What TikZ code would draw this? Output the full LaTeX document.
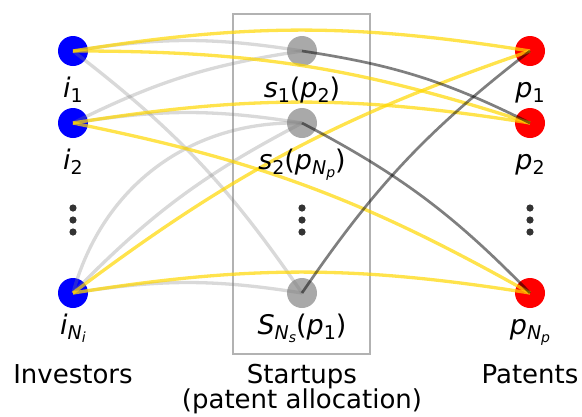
\documentclass[tikz,border=0pt]{standalone}
\usepackage{fontspec}
\setmainfont{DejaVu Sans}
\usepackage{tikz}

\definecolor{invblue}{RGB}{0,0,255}
\definecolor{patred}{RGB}{255,0,0}
\definecolor{stgray}{RGB}{169,169,169}
\definecolor{linkyellow}{RGB}{255,215,0}
\definecolor{dotgray}{RGB}{51,51,51}

\newcommand{\sub}[1]{\raisebox{-5pt}{\fontsize{19}{19}\selectfont #1}}
\newcommand{\subsub}[1]{\raisebox{-3.5pt}{\fontsize{14}{14}\selectfont\itshape #1}}

\begin{document}
\begin{tikzpicture}[x=1pt, y=1pt,
    agent/.style={circle, minimum size=30pt, inner sep=0pt},
    investor/.style={agent, fill=invblue},
    startup/.style={agent, fill=stgray},
    patent/.style={agent, fill=patred},
    lbl/.style={anchor=base, inner sep=0pt, font=\fontsize{26}{30}\selectfont},
    mlbl/.style={lbl, font=\fontsize{27}{30}\selectfont},
    invest/.style={line width=3.3pt, gray, opacity=0.3},
    license/.style={line width=3.3pt, linkyellow, opacity=0.7},
    alloc/.style={line width=2.7pt, black, opacity=0.5}]
    \useasboundingbox (0,0) rectangle (582,-416);

    \draw[gray!60, line width=1.3pt] (233,-14) rectangle (370,-354);

    \node[investor] (i1) at (73,-51) {};
    \node[investor] (i2) at (73,-123) {};
    \node[investor] (iN) at (73,-293) {};
    \node[startup] (s1) at (302,-51) {};
    \node[startup] (s2) at (302,-123) {};
    \node[startup] (sN) at (302,-293) {};
    \node[patent] (p1) at (530,-51) {};
    \node[patent] (p2) at (530,-123) {};
    \node[patent] (pN) at (530,-293) {};

    \foreach \x in {73, 302, 530}
        \foreach \y in {208, 220, 232}
            \fill[dotgray] (\x,-\y) circle (3.6);

    % investor -> startup
    \draw[invest] (i1.center) to[bend left=9] (s1.center);
    \draw[invest] (i1.center) to[bend left=9] (sN.center);
    \draw[invest] (i2.center) to[bend left=9] (s1.center);
    \draw[invest] (i2.center) to[bend left=9] (s2.center);
    \draw[invest] (iN.center) to[bend left=9] (s2.center);
    \draw[invest] (iN.center) to[bend left=38] (s2.center);
    \draw[invest] (iN.center) to[bend left=9] (sN.center);

    % investor -> patent
    \draw[license] (i1.center) to[bend left=9] (p1.center);
    \draw[license] (i1.center) to[bend left=9] (p2.center);
    \draw[license] (i2.center) to[bend left=9] (p2.center);
    \draw[license] (i2.center) to[bend left=9] (pN.center);
    \draw[license] (iN.center) to[bend left=9] (p1.center);
    \draw[license] (iN.center) to[bend left=9] (pN.center);

    % startup -> patent
    \draw[alloc] (s1.center) to[bend left=9] (p2.center);
    \draw[alloc] (s2.center) to[bend left=9] (pN.center);
    \draw[alloc] (sN.center) to[bend left=9] (p1.center);

    \node[mlbl] (li1) at (73,-97) {\textit{i}\sub{1}};
    \node[mlbl] (li2) at (73,-169) {\textit{i}\sub{2}};
    \node[mlbl] (liN) at (73,-334) {\textit{i}\sub{\textit{N}\subsub{i}}};
    \node[mlbl] (ls1) at (302,-97) {\textit{s}\sub{1}(\textit{p}\sub{2})};
    \node[mlbl] (ls2) at (302,-169) {\textit{s}\sub{2}(\textit{p}\sub{\textit{N}\subsub{p}})};
    \node[mlbl] (lsN) at (302,-334) {\textit{S}\sub{\textit{N}\subsub{s}}(\textit{p}\sub{1})};
    \node[mlbl] (lp1) at (530,-97) {\textit{p}\sub{1}};
    \node[mlbl] (lp2) at (530,-169) {\textit{p}\sub{2}};
    \node[mlbl] (lpN) at (530,-334) {\textit{p}\sub{\textit{N}\subsub{p}}};

    \node[lbl] (inv) at (73,-383) {Investors};
    \node[lbl] (st) at (302,-383) {Startups};
    \node[lbl] (st2) at (302,-408) {(patent allocation)};
    \node[lbl] (pat) at (530,-383) {Patents};
\end{tikzpicture}
\end{document}
